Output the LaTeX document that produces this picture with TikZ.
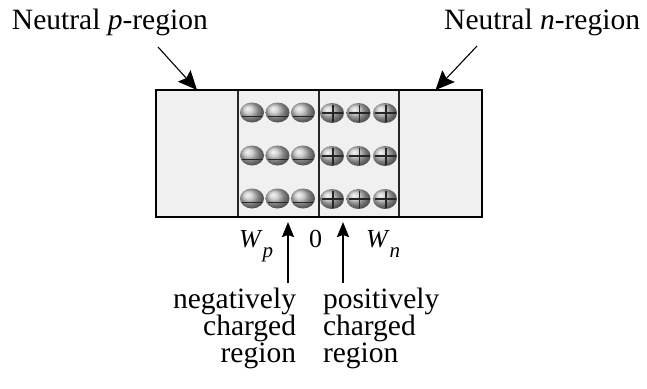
\documentclass[tikz,border=0pt]{standalone}
\usepackage{fontspec}
\setmainfont{Liberation Serif}
\usetikzlibrary{arrows.meta,positioning}

\begin{document}
\begin{tikzpicture}[
    x=1pt,y=-1pt,
    every node/.style={font=\fontsize{29.5}{27}\selectfont,inner sep=0pt,outer sep=0pt},
    zone/.style={draw=black!85,line width=1.3pt,fill=gray!12,
      minimum height=127pt,minimum width=#1},
    pfeil/.style={-{Stealth[length=19pt,width=17pt,inset=3pt]},line width=1.1pt},
    hochpfeil/.style={-{Stealth[length=15pt,width=12pt,inset=2pt]},line width=2.2pt},
    kugel/.style={shading=ball,ball color=gray!50},
    vorz/.style={line width=1.7pt,black!85},
    wlabel/.style={font=\fontsize{26}{26}\selectfont,anchor=base west}
  ]
    \useasboundingbox (0,0) rectangle (647,388);

    % the four regions of the junction
    \node[zone=82pt,anchor=north west] (pneutral) at (156,90) {};
    \node[zone=81pt,right=0pt of pneutral] (pdep) {};
    \node[zone=80pt,right=0pt of pdep] (ndep) {};
    \node[zone=83pt,right=0pt of ndep] (nneutral) {};
    \draw[line width=2.6pt] (pneutral.north west) rectangle (nneutral.south east);

    % ions
    \foreach \row in {0,1,2} {
      \foreach \col in {0,1,2} {
        \shade[kugel] ({252+25.5*\col},{112.5+43*\row}) ellipse (12 and 10);
        \draw[vorz] ({242+25.5*\col},{116.5+43*\row}) -- ++(20,0);
        \shade[kugel] ({332+26.5*\col},{113+43*\row}) ellipse (12 and 10);
        \draw[vorz] ({322+26.5*\col},{113+43*\row}) -- ++(21,0);
        \draw[vorz] ({333+26.5*\col},{104.5+43*\row}) -- ++(0,17);
      }
    }

    % labels above
    \node[anchor=base west] (ptext) at (12,29) {Neutral \textit{p}-region};
    \node[anchor=base east] (ntext) at (640,29) {Neutral \textit{n}-region};
    \coordinate (ptail) at (158,47);
    \coordinate (ntail) at (477,46);
    \draw[pfeil] (ptail) -- (pneutral.north);
    \draw[pfeil] (ntail) -- ([xshift=-5pt]nneutral.north);

    % labels below
    \node[wlabel] (wp) at (239,247)
      {\textit{W}\raisebox{-10pt}{\fontsize{21}{21}\selectfont\textit{p}}};
    \node[wlabel] (null) at (309,247) {0};
    \node[wlabel] (wn) at (366,247)
      {\textit{W}\raisebox{-10pt}{\fontsize{21}{21}\selectfont\textit{n}}};
    \node[align=right,anchor=north east] (negtext) at (296,288)
      {negatively\\charged\\region};
    \node[align=left,anchor=north west] (postext) at (323,288)
      {positively\\charged\\region};
    \coordinate (negfoot) at (288,283);
    \coordinate (posfoot) at (343,283);
    \draw[hochpfeil] (negfoot) -- (negfoot |- 0,222);
    \draw[hochpfeil] (posfoot) -- (posfoot |- 0,222);
  \end{tikzpicture}
\end{document}
